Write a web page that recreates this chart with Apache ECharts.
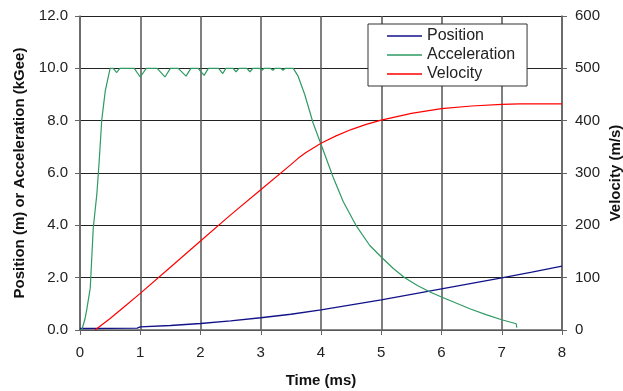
<!DOCTYPE html>
<html>
<head>
<meta charset="utf-8">
<script src="https://cdn.jsdelivr.net/npm/echarts@6/dist/echarts.min.js"></script>
<style>
  html, body { margin: 0; padding: 0; background: #fff; }
  #chart { width: 623px; height: 391px; }
</style>
</head>
<body>
<div id="chart"></div>
<script>
// time axis (ms)
const timeTicks = [0, 1, 2, 3, 4, 5, 6, 7, 8];

// position (m), left axis
const posTime = [0, 0.95, 1, 1.5, 2, 2.5, 3, 3.5, 4, 4.5, 5, 5.5, 6, 6.5, 7, 7.5, 8];
const posValue = [0.06, 0.07, 0.12, 0.17, 0.25, 0.35, 0.47, 0.6, 0.77, 0.96, 1.15, 1.36, 1.57, 1.78, 1.99, 2.21, 2.44];

// acceleration (kGee), left axis
const accTime = [0.03, 0.08, 0.11, 0.17, 0.22, 0.28, 0.32, 0.36, 0.42, 0.5,
  0.55, 0.61, 0.66, 0.9, 1.0, 1.1, 1.28, 1.41, 1.5, 1.63, 1.76, 1.84,
  1.96, 2.06, 2.13, 2.3, 2.37, 2.42, 2.54, 2.59, 2.64, 2.77, 2.82, 2.87,
  2.98, 3.02, 3.06, 3.16, 3.2, 3.24, 3.33, 3.37, 3.41, 3.54,
  3.62, 3.73, 3.87, 4.0, 4.2, 4.37, 4.58, 4.81, 5.0, 5.2, 5.39, 5.6, 5.81,
  6.0, 6.25, 6.47, 6.75, 7.0, 7.24, 7.25];
const accValue = [0, 0.4, 0.75, 1.6, 3.9, 5.2, 6.5, 8.0, 9.15, 10.0,
  10, 9.84, 10, 10, 9.67, 10, 10, 9.67, 10, 10, 9.7, 10,
  10, 9.73, 10, 10, 9.8, 10, 10, 9.87, 10, 10, 9.87, 10,
  10, 9.93, 10, 10, 9.93, 10, 10, 9.93, 10, 10,
  9.7, 9.0, 7.9, 7.1, 5.85, 4.9, 4.0, 3.23, 2.79, 2.35, 2.0, 1.7, 1.45,
  1.26, 1.02, 0.81, 0.58, 0.39, 0.24, 0.09];

// velocity (m/s), right axis
const velTime = [0.25, 0.5, 0.75, 1, 1.5, 2, 2.5, 3, 3.5, 3.62, 3.75, 4, 4.25, 4.5, 4.75, 5, 5.5, 6, 6.5, 7, 7.3, 8];
const velValue = [0, 22, 46, 70, 120, 170, 220, 268, 316, 328, 339, 357, 371, 383, 393, 401, 414, 423, 428, 431, 432, 432];

const zip = (xs, ys) => xs.map((x, i) => [x, ys[i]]);

const font = "'Liberation Sans', Arial, sans-serif";

const chart = echarts.init(document.getElementById('chart'));

const option = {
  animation: false,
  backgroundColor: '#fff',
  textStyle: { fontFamily: font },
  grid: { left: 80, right: 61, top: 16, bottom: 61, containLabel: false, outerBoundsMode: 'none' },
  legend: {
    orient: 'vertical',
    left: 368,
    top: 24,
    icon: 'rect',
    itemWidth: 35,
    itemHeight: 1.5,
    itemGap: 3,
    padding: [4, 12, 4, 19],
    borderColor: '#333',
    borderWidth: 1,
    backgroundColor: '#fff',
    textStyle: { fontSize: 16, color: '#222', fontFamily: font, lineHeight: 15 },
    data: ['Position', 'Acceleration', 'Velocity']
  },
  xAxis: {
    type: 'value',
    min: timeTicks[0],
    max: timeTicks[timeTicks.length - 1],
    interval: 1,
    name: 'Time (ms)',
    nameLocation: 'middle',
    nameGap: 43,
    nameMoveOverlap: false,
    nameTextStyle: { fontSize: 15, fontWeight: 'bold', color: '#111', fontFamily: font },
    axisLine: { show: true, lineStyle: { color: '#666', width: 1.5 } },
    axisTick: { show: true, length: 5, lineStyle: { color: '#666' } },
    axisLabel: { fontSize: 15, color: '#222', margin: 15 },
    splitLine: { show: true, lineStyle: { color: '#555', width: 1.5 } }
  },
  yAxis: [
    {
      type: 'value',
      min: 0,
      max: 12,
      interval: 2,
      name: 'Position (m) or Acceleration (kGee)',
      nameLocation: 'middle',
      nameRotate: 90,
      nameGap: 53,
      nameMoveOverlap: false,
      nameTextStyle: { fontSize: 15, fontWeight: 'bold', color: '#111', fontFamily: font },
      axisLine: { show: true, lineStyle: { color: '#666', width: 1.5 } },
      axisTick: { show: true, length: 5, lineStyle: { color: '#666' } },
      axisLabel: { fontSize: 15, color: '#222', margin: 12, formatter: (v) => v.toFixed(1) },
      splitLine: { show: true, lineStyle: { color: '#222', width: 1 } }
    },
    {
      type: 'value',
      min: 0,
      max: 600,
      interval: 100,
      position: 'right',
      name: 'Velocity (m/s)',
      nameLocation: 'middle',
      nameRotate: 90,
      nameGap: 46,
      nameMoveOverlap: false,
      nameTextStyle: { fontSize: 15, fontWeight: 'bold', color: '#111', fontFamily: font },
      axisLine: { show: true, lineStyle: { color: '#666', width: 1.5 } },
      axisTick: { show: true, length: 5, lineStyle: { color: '#666' } },
      axisLabel: { fontSize: 15, color: '#222', margin: 13 },
      splitLine: { show: false }
    }
  ],
  series: [
    {
      name: 'Position',
      type: 'line',
      yAxisIndex: 0,
      symbol: 'none',
      color: '#12128a',
      lineStyle: { width: 1.4 },
      data: zip(posTime, posValue)
    },
    {
      name: 'Acceleration',
      type: 'line',
      yAxisIndex: 0,
      symbol: 'none',
      color: '#2f9a63',
      lineStyle: { width: 1.2 },
      data: zip(accTime, accValue)
    },
    {
      name: 'Velocity',
      type: 'line',
      yAxisIndex: 1,
      symbol: 'none',
      color: '#ff0000',
      lineStyle: { width: 1.2 },
      data: zip(velTime, velValue)
    }
  ]
};

chart.setOption(option);
</script>
</body>
</html>
